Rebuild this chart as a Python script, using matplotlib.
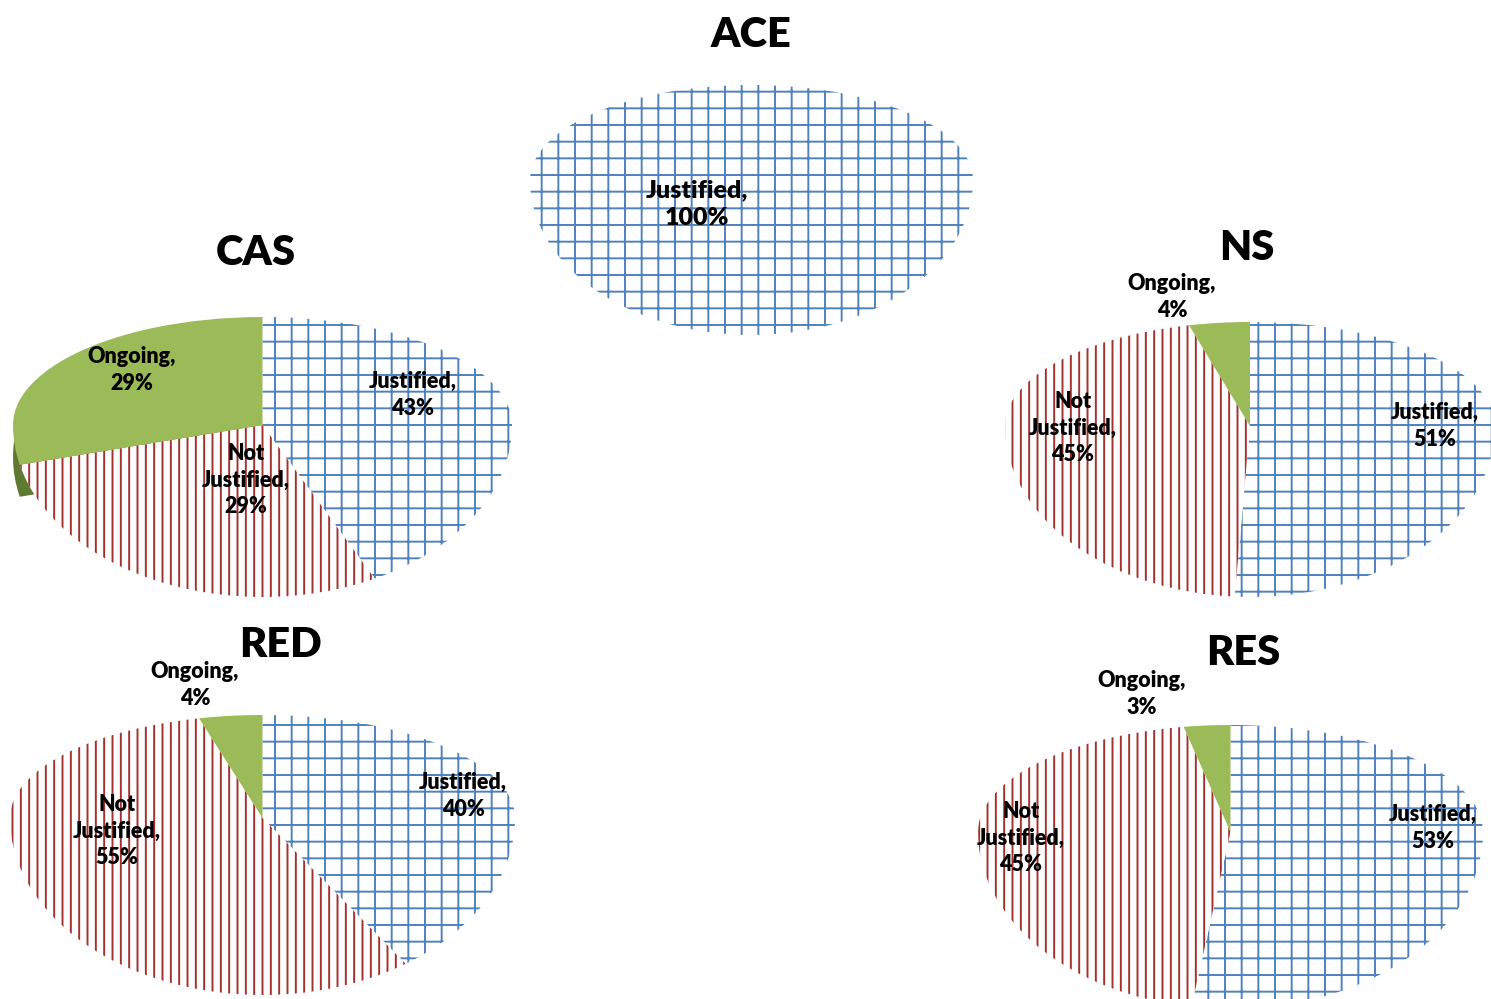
import matplotlib.pyplot as plt
import matplotlib.patches as mpatches
import matplotlib.transforms as mtransforms

W, H = 1491, 999

categories = ['Justified', 'Not Justified', 'Ongoing']
units = ['ACE', 'CAS', 'NS', 'RED', 'RES']
ace = [100, 0, 0]
cas = [43, 29, 29]
ns = [51, 45, 4]
red = [40, 55, 4]
res = [53, 45, 3]
values = dict(ACE=ace, CAS=cas, NS=ns, RED=red, RES=res)

faces = ['white', 'white', '#9BBB59']
edges = ['#4F81BD', '#A3322F', '#9BBB59']
hatches = ['+', '||', '']

# pixel layout: left, right, top, pie centre y, bottom; title centre; label centres
layout = {
    'ACE': dict(box=(530, 973, 85, 180, 335), title=(751, 35),
                labels=[(697, 204), None, None], fs=18),
    'CAS': dict(box=(13, 512, 317, 425, 597), title=(256, 253),
                labels=[(413, 395), (246, 480), (132, 370)], fs=15.5),
    'NS': dict(box=(1005, 1495, 322, 426, 597), title=(1247, 248),
               labels=[(1435, 426), (1073, 428), (1172, 297)], fs=15.5),
    'RED': dict(box=(10, 515, 715, 818, 995), title=(280, 645),
                labels=[(463, 796), (117, 831), (195, 685)], fs=15.5),
    'RES': dict(box=(978, 1483, 725, 832, 1009), title=(1243, 653),
                labels=[(1433, 828), (1021, 838), (1142, 694)], fs=15.5),
}

plt.rcParams['font.family'] = ['Lato', 'DejaVu Sans']
plt.rcParams['hatch.linewidth'] = 1.4

fig = plt.figure(figsize=(W / 100, H / 100), dpi=100)


def draw_pie(ax, vals, side=False):
    idx = [i for i, v in enumerate(vals) if v > 0]
    wedges, _ = ax.pie([vals[i] for i in idx], startangle=90, counterclock=False,
                       colors=[faces[i] for i in idx])
    for w, i in zip(wedges, idx):
        w.set_edgecolor(edges[i])
        w.set_linewidth(0)
        w.set_hatch(hatches[i])
        w.set_clip_on(True)
    if side:
        # visible side of the raised "Ongoing" slice
        w = wedges[idx.index(2)]
        shift = mtransforms.ScaledTranslation(0, -0.32, fig.dpi_scale_trans)
        ax.add_patch(mpatches.Wedge(w.center, w.r, w.theta1, w.theta2,
                                    facecolor='#5E7A31', linewidth=0,
                                    transform=ax.transData + shift, zorder=0))
    ax.set_aspect('auto')
    ax.set_xlim(-1, 1)
    ax.axis('off')


for u in units:
    lay = layout[u]
    l, r, t, cy, b = lay['box']
    vals = values[u]
    # far half flatter than near half (3-D tilt): two half-pies of different depth
    top = fig.add_axes([l / W, 1 - cy / H, (r - l) / W, (cy - t) / H])
    draw_pie(top, vals)
    top.set_ylim(0, 1)
    bot = fig.add_axes([l / W, 1 - b / H, (r - l) / W, (b - cy) / H])
    draw_pie(bot, vals, side=(u == 'CAS'))
    bot.set_ylim(-1, 0)

    tx, ty = lay['title']
    fig.text(tx / W, 1 - ty / H, u, ha='center', va='center',
             fontsize=30, fontweight='heavy')
    for i, pos in enumerate(lay['labels']):
        if pos is None:
            continue
        name = categories[i].replace('Not ', 'Not\n')
        fig.text(pos[0] / W, 1 - pos[1] / H, f'{name},\n{vals[i]}%',
                 ha='center', va='center', fontsize=lay['fs'], fontweight='heavy',
                 linespacing=1.35)

fig.savefig('out.png', dpi=100)
